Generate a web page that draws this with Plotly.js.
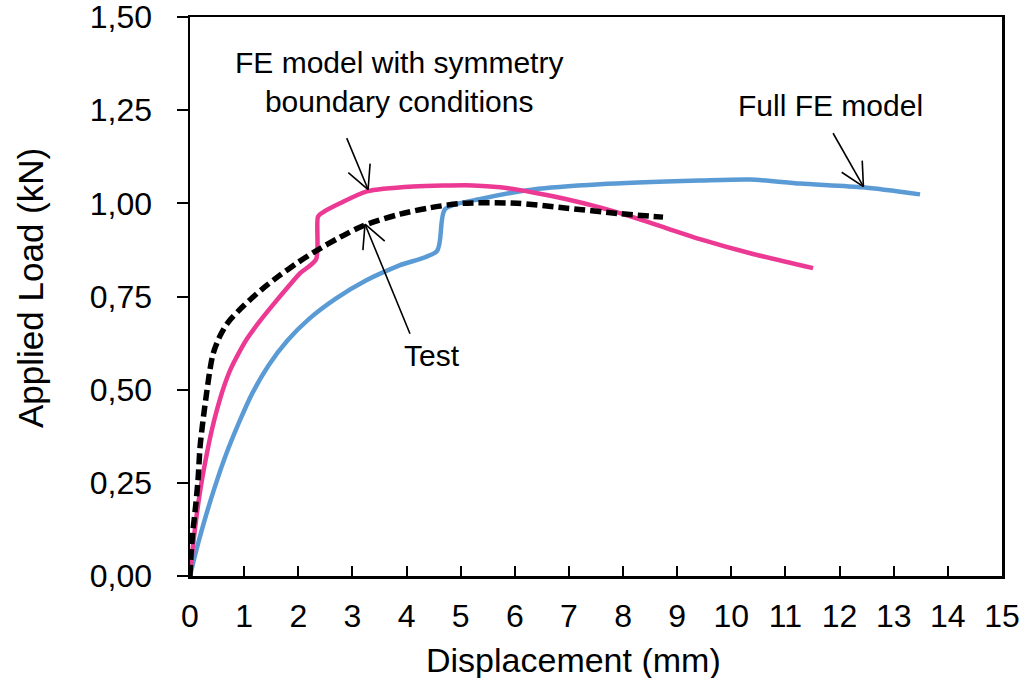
<!DOCTYPE html>
<html>
<head>
<meta charset="utf-8">
<script src="https://cdn.plot.ly/plotly-3.0.1.min.js"></script>
<style>
  html, body { margin: 0; padding: 0; background: #fff; }
  #chart { width: 1027px; height: 678px; }
</style>
</head>
<body>
<div id="chart"></div>
<script>
// Load–displacement curves (displacement in mm, load in kN)
const testDisp = [0, 0.02, 0.055, 0.09, 0.148, 0.185, 0.24, 0.296, 0.37, 0.43, 0.55, 0.7, 0.9, 1.1, 1.35, 1.65, 2.0, 2.3, 2.77, 3.2, 3.88, 4.43, 5.04, 6.04, 6.965, 7.888, 8.738];
const testLoad = [0, 0.06, 0.123, 0.168, 0.257, 0.345, 0.417, 0.479, 0.555, 0.598, 0.643, 0.68, 0.712, 0.74, 0.772, 0.806, 0.842, 0.87, 0.909, 0.94, 0.971, 0.988, 1.0, 1.0, 0.987, 0.973, 0.963];

const symDisp = [0, 0.05, 0.12, 0.2, 0.3, 0.4, 0.5, 0.62, 0.75, 0.9, 1.05, 1.29, 1.54, 1.79, 2.03, 2.33, 2.365, 2.457, 2.771, 3.27, 4.12, 5.228, 5.73, 6.34, 6.96, 7.57, 8.18, 8.81, 9.42, 10.35, 11.51];
const symLoad = [0, 0.075, 0.16, 0.24, 0.32, 0.39, 0.447, 0.505, 0.555, 0.598, 0.636, 0.684, 0.729, 0.772, 0.812, 0.85, 0.965, 0.976, 1.0, 1.032, 1.045, 1.048, 1.043, 1.029, 1.011, 0.989, 0.963, 0.933, 0.904, 0.866, 0.826];

const fullDisp = [0, 0.1, 0.25, 0.45, 0.65, 0.9, 1.15, 1.45, 1.8, 2.2, 2.7, 3.25, 3.88, 4.563, 4.711, 5.413, 6.337, 7.574, 9.422, 10.345, 11.269, 12.433, 13.486];
const fullLoad = [0, 0.06, 0.14, 0.235, 0.32, 0.41, 0.49, 0.565, 0.632, 0.69, 0.745, 0.793, 0.834, 0.872, 0.984, 1.013, 1.037, 1.051, 1.061, 1.064, 1.053, 1.043, 1.024];

// Axis ticks
const yTickVals = [0, 0.25, 0.5, 0.75, 1.0, 1.25, 1.5];
const yTickText = ['0,00', '0,25', '0,50', '0,75', '1,00', '1,25', '1,50'];
const xTickVals = [0, 1, 2, 3, 4, 5, 6, 7, 8, 9, 10, 11, 12, 13, 14, 15];

// Callout labels and their pointer arrows (tail -> head, data units)
const labelText = ['FE model with symmetry<br>boundary conditions', 'Full FE model', 'Test'];
const labelX = [3.86, 11.84, 4.47];
const labelY = [1.326, 1.262, 0.591];
const arrowTailX = [2.895, 11.88, 4.064];
const arrowTailY = [1.175, 1.188, 0.65];
const arrowHeadX = [3.29, 12.44, 3.233];
const arrowHeadY = [1.037, 1.045, 0.944];

const xRange = [0, 15];
const yRange = [0, 1.5];
const W = 1027, H = 678;
const margin = { l: 190, r: 25, t: 17, b: 102 };
const plotW = W - margin.l - margin.r;
const plotH = H - margin.t - margin.b;
const pxPerX = plotW / (xRange[1] - xRange[0]);
const pxPerY = plotH / (yRange[1] - yRange[0]);

const font = 'Liberation Sans, Arial, sans-serif';

const traces = [
  {
    x: fullDisp, y: fullLoad, mode: 'lines', name: 'Full FE model',
    line: { color: '#5B9BD5', width: 4.5, shape: 'spline', smoothing: 0.7 }
  },
  {
    x: symDisp, y: symLoad, mode: 'lines', name: 'FE model with symmetry boundary conditions',
    line: { color: '#EC3A94', width: 4.5, shape: 'spline', smoothing: 0.7 }
  },
  {
    x: testDisp, y: testLoad, mode: 'lines', name: 'Test',
    line: { color: '#000000', width: 5.5, dash: '11px,5px', shape: 'spline', smoothing: 0.8 }
  }
];

// Arrow shafts plus open "V" heads built in pixel space
const shapes = [];
const wingLen = 26, wingAng = 27 * Math.PI / 180;
for (let i = 0; i < arrowHeadX.length; i++) {
  shapes.push({
    type: 'line', xref: 'x', yref: 'y',
    x0: arrowTailX[i], y0: arrowTailY[i], x1: arrowHeadX[i], y1: arrowHeadY[i],
    line: { color: '#000', width: 1.6 }
  });
  // direction from head back to tail, in screen pixels (y down)
  const dx = (arrowTailX[i] - arrowHeadX[i]) * pxPerX;
  const dy = -(arrowTailY[i] - arrowHeadY[i]) * pxPerY;
  const a = Math.atan2(dy, dx);
  [a - wingAng, a + wingAng].forEach(function (ang) {
    const wx = Math.cos(ang) * wingLen, wy = Math.sin(ang) * wingLen;
    shapes.push({
      type: 'line', xref: 'x', yref: 'y',
      x0: arrowHeadX[i], y0: arrowHeadY[i],
      x1: arrowHeadX[i] + wx / pxPerX, y1: arrowHeadY[i] - wy / pxPerY,
      line: { color: '#000', width: 1.6 }
    });
  });
}

const annotations = labelText.map(function (t, i) {
  return {
    text: t, x: labelX[i], y: labelY[i], xref: 'x', yref: 'y',
    showarrow: false, align: 'center',
    font: { family: font, size: 30, color: '#000' }
  };
});

// Axis titles placed as paper-anchored text
annotations.push({
  text: 'Displacement (mm)', xref: 'paper', yref: 'paper',
  x: (573 - margin.l) / plotW, y: -(660 - (H - margin.b)) / plotH,
  xanchor: 'center', yanchor: 'middle', showarrow: false,
  font: { family: font, size: 34, color: '#000' }
});
annotations.push({
  text: 'Applied Load (kN)', xref: 'paper', yref: 'paper', textangle: -90,
  x: (30 - margin.l) / plotW, y: ((H - margin.b) - 288) / plotH,
  xanchor: 'center', yanchor: 'middle', showarrow: false,
  font: { family: font, size: 35, color: '#000' }
});

const layout = {
  width: W, height: H,
  margin: margin,
  paper_bgcolor: '#fff', plot_bgcolor: '#fff',
  showlegend: false,
  font: { family: font, color: '#000' },
  xaxis: {
    range: xRange, tickmode: 'array', tickvals: xTickVals,
    showgrid: false, zeroline: false,
    showline: true, mirror: true, linecolor: '#000', linewidth: 2.5,
    ticks: 'inside', ticklen: 10, tickwidth: 2, tickcolor: '#000',
    ticklabelstandoff: 10,
    tickfont: { family: font, size: 32, color: '#000' }
  },
  yaxis: {
    range: yRange, tickmode: 'array', tickvals: yTickVals, ticktext: yTickText,
    showgrid: false, zeroline: false,
    showline: true, mirror: true, linecolor: '#000', linewidth: 2.5,
    ticks: 'outside', ticklen: 11, tickwidth: 2, tickcolor: '#000',
    ticklabelstandoff: 18, ticklabeloverflow: 'allow',
    tickfont: { family: font, size: 32, color: '#000' }
  },
  shapes: shapes,
  annotations: annotations
};

Plotly.newPlot('chart', traces, layout, { displayModeBar: false, staticPlot: true });
</script>
</body>
</html>
